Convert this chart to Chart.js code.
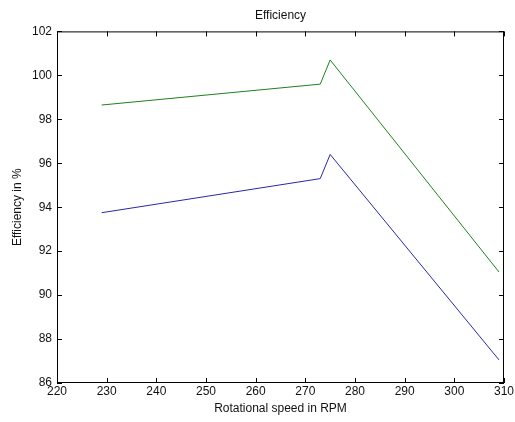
<!DOCTYPE html>
<html>
<head>
<meta charset="utf-8">
<script src="https://cdn.jsdelivr.net/npm/chart.js@4"></script>
<style>
  html, body { margin: 0; padding: 0; background: #fff; }
  #wrap { width: 515px; height: 422px; }
</style>
</head>
<body>
<div id="wrap"><canvas id="effChart" width="515" height="422"></canvas></div>
<script>
const speeds = [229, 273, 275, 309];
const upperEff = [98.65, 99.6, 100.7, 91.05];
const lowerEff = [93.75, 95.3, 96.4, 87.05];
const xTicks = [220, 230, 240, 250, 260, 270, 280, 290, 300, 310];
const yTicks = [86, 88, 90, 92, 94, 96, 98, 100, 102];

const toPoints = (xs, ys) => xs.map((x, i) => ({ x: x, y: ys[i] }));

// matlab style: box around the axes and ticks pointing inward
const boxTicks = {
  id: 'boxTicks',
  afterDraw(chart) {
    const { ctx, chartArea: a, scales } = chart;
    const len = 5;
    ctx.save();
    ctx.strokeStyle = '#000';
    ctx.lineWidth = 1;
    ctx.strokeRect(a.left + 0.5, a.top + 0.5, a.right - a.left - 1, a.bottom - a.top - 1);
    ctx.beginPath();
    xTicks.forEach(v => {
      const x = Math.round(scales.x.getPixelForValue(v)) + 0.5;
      ctx.moveTo(x, a.bottom); ctx.lineTo(x, a.bottom - len);
      ctx.moveTo(x, a.top); ctx.lineTo(x, a.top + len);
    });
    yTicks.forEach(v => {
      const y = Math.round(scales.y.getPixelForValue(v)) + 0.5;
      ctx.moveTo(a.left, y); ctx.lineTo(a.left + len, y);
      ctx.moveTo(a.right, y); ctx.lineTo(a.right - len, y);
    });
    ctx.stroke();
    ctx.restore();
  }
};

Chart.defaults.font.family = '"Liberation Sans", Arial, sans-serif';
Chart.defaults.font.size = 12;
Chart.defaults.color = '#111';

new Chart(document.getElementById('effChart'), {
  type: 'line',
  data: {
    datasets: [
      {
        label: 'upper',
        data: toPoints(speeds, upperEff),
        borderColor: 'rgb(30, 128, 30)',
        borderWidth: 1,
        pointRadius: 0,
        tension: 0
      },
      {
        label: 'lower',
        data: toPoints(speeds, lowerEff),
        borderColor: 'rgb(40, 40, 170)',
        borderWidth: 1,
        pointRadius: 0,
        tension: 0
      }
    ]
  },
  options: {
    responsive: false,
    animation: false,
    events: [],
    layout: { padding: { left: 0, right: 11, top: 0, bottom: 0 } },
    plugins: {
      legend: { display: false },
      tooltip: { enabled: false },
      title: {
        display: true,
        fullSize: false,
        text: 'Efficiency',
        font: { size: 12, weight: 'normal' },
        padding: { top: 8, bottom: 9 }
      }
    },
    scales: {
      x: {
        type: 'linear',
        min: 220,
        max: 310,
        afterBuildTicks: s => { s.ticks = xTicks.map(v => ({ value: v })); },
        afterFit: s => { s.height = 39; },
        grid: { display: false, drawTicks: false },
        border: { display: false },
        ticks: { padding: 1, maxRotation: 0 },
        title: {
          display: true,
          text: 'Rotational speed in RPM',
          font: { size: 12 },
          padding: { top: 0, bottom: 6 }
        }
      },
      y: {
        type: 'linear',
        min: 86,
        max: 102,
        afterBuildTicks: s => { s.ticks = yTicks.map(v => ({ value: v })); },
        afterFit: s => { s.width = 57; },
        grid: { display: false, drawTicks: false },
        border: { display: false },
        ticks: { padding: 5 },
        title: {
          display: true,
          text: 'Efficiency in %',
          font: { size: 12 },
          padding: { top: 10, bottom: 0 }
        }
      }
    }
  },
  plugins: [boxTicks]
});
</script>
</body>
</html>
